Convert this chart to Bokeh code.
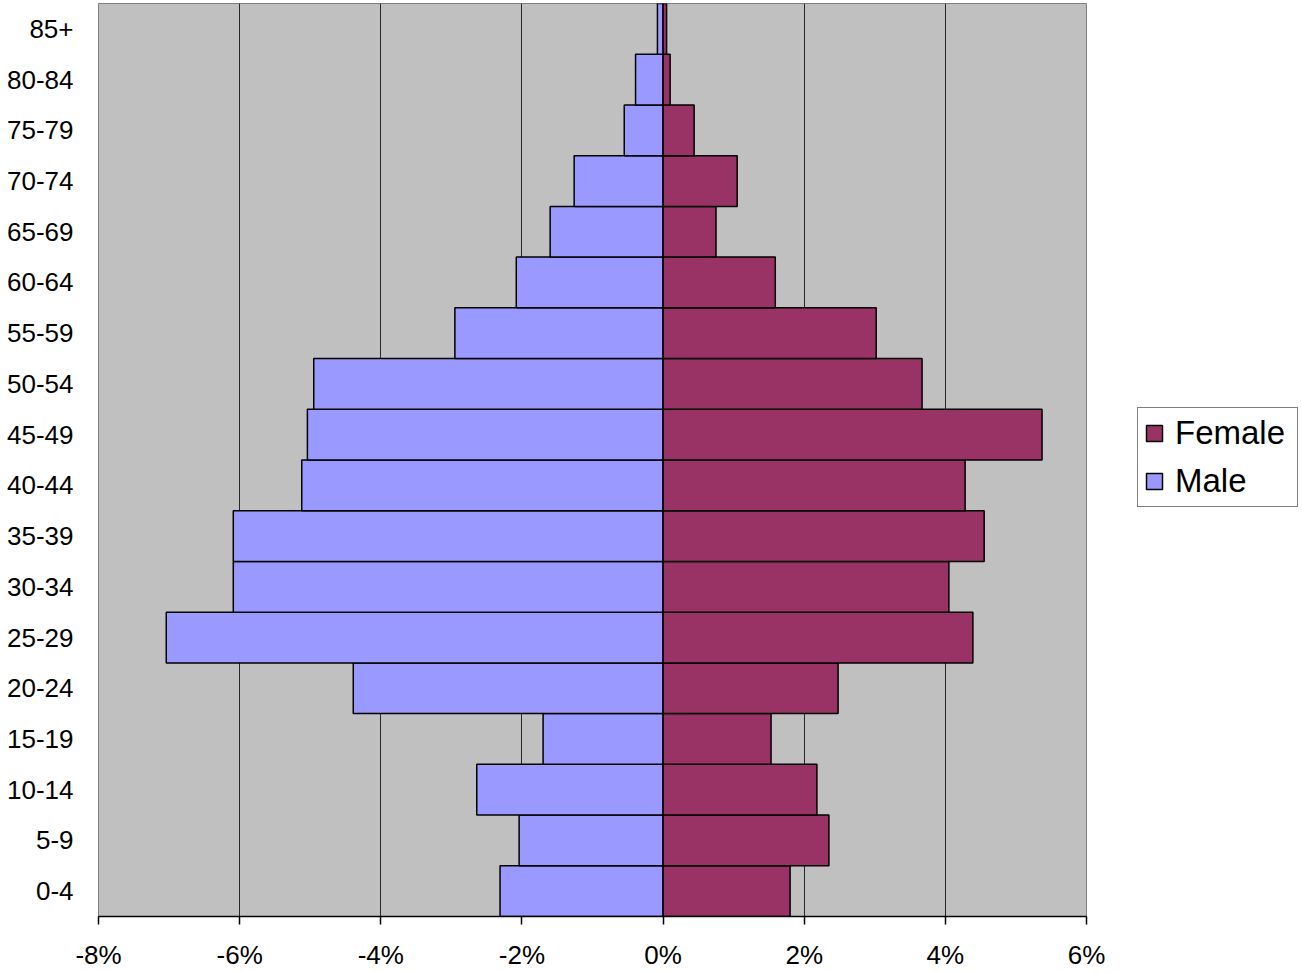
from bokeh.plotting import figure
from bokeh.models import (FactorRange, Range1d, PrintfTickFormatter, FixedTicker,
                          Legend, LegendItem, ColumnDataSource)
from bokeh.embed import file_html
from bokeh.resources import INLINE

age_groups = ["0-4", "5-9", "10-14", "15-19", "20-24", "25-29", "30-34", "35-39",
              "40-44", "45-49", "50-54", "55-59", "60-64", "65-69", "70-74", "75-79",
              "80-84", "85+"]
male = [-2.31, -2.04, -2.64, -1.70, -4.39, -7.04, -6.09, -6.09,
        -5.12, -5.04, -4.95, -2.95, -2.08, -1.60, -1.26, -0.55,
        -0.39, -0.08]
female = [1.80, 2.35, 2.18, 1.53, 2.48, 4.39, 4.05, 4.55,
          4.28, 5.37, 3.67, 3.02, 1.59, 0.75, 1.05, 0.44,
          0.10, 0.05]
x_ticks = [-8, -6, -4, -2, 0, 2, 4, 6]

FONT = "Liberation Sans"

src = ColumnDataSource(dict(age=age_groups, male=male, female=female))

p = figure(frame_width=988, frame_height=913, output_backend="svg", toolbar_location=None,
           y_range=FactorRange(factors=age_groups, range_padding=0),
           x_range=Range1d(-8, 6),
           min_border_left=98, min_border_right=216, min_border_top=3,
           min_border_bottom=54)

p.background_fill_color = "#C0C0C0"
p.border_fill_color = "white"
p.outline_line_color = "#808080"
p.outline_line_width = 1

m = p.hbar(y="age", left="male", right=0, height=1.0, source=src,
           fill_color="#9999FF", line_color="black", line_width=1.5)
f = p.hbar(y="age", left=0, right="female", height=1.0, source=src,
           fill_color="#993366", line_color="black", line_width=1.5)

# axes
p.xaxis.ticker = FixedTicker(ticks=x_ticks)
p.xaxis.formatter = PrintfTickFormatter(format="%d%%")
p.xaxis.axis_line_color = "black"
p.xaxis.axis_line_width = 1.5
p.xaxis.major_tick_line_color = "black"
p.xaxis.major_tick_line_width = 1.5
p.xaxis.major_tick_out = 8
p.xaxis.major_tick_in = 0
p.xaxis.minor_tick_line_color = None
p.xaxis.major_label_text_font = FONT
p.xaxis.major_label_text_font_size = "26px"
p.xaxis.major_label_text_color = "black"
p.xaxis.major_label_standoff = 15

p.yaxis.axis_line_color = None
p.yaxis.major_tick_line_color = None
p.yaxis.minor_tick_line_color = None
p.yaxis.major_label_text_font = FONT
p.yaxis.major_label_text_font_size = "26px"
p.yaxis.major_label_text_color = "black"
p.yaxis.major_label_standoff = 19

p.xgrid.ticker = FixedTicker(ticks=x_ticks)
p.xgrid.grid_line_color = "black"
p.xgrid.grid_line_width = 1
p.xgrid.grid_line_alpha = 0.8
p.ygrid.grid_line_color = None

legend = Legend(items=[LegendItem(label="Female", renderers=[f]),
                       LegendItem(label="Male", renderers=[m])],
                location=(51, 409), margin=0,
                label_text_font=FONT, label_text_font_size="33px",
                label_text_color="black",
                glyph_width=20, glyph_height=20, label_standoff=11,
                label_width=116,
                spacing=10, padding=6,
                border_line_color="black", border_line_width=1,
                background_fill_color="white", background_fill_alpha=1)
p.add_layout(legend, "right")

open("out.html", "w").write(file_html(p, INLINE))
